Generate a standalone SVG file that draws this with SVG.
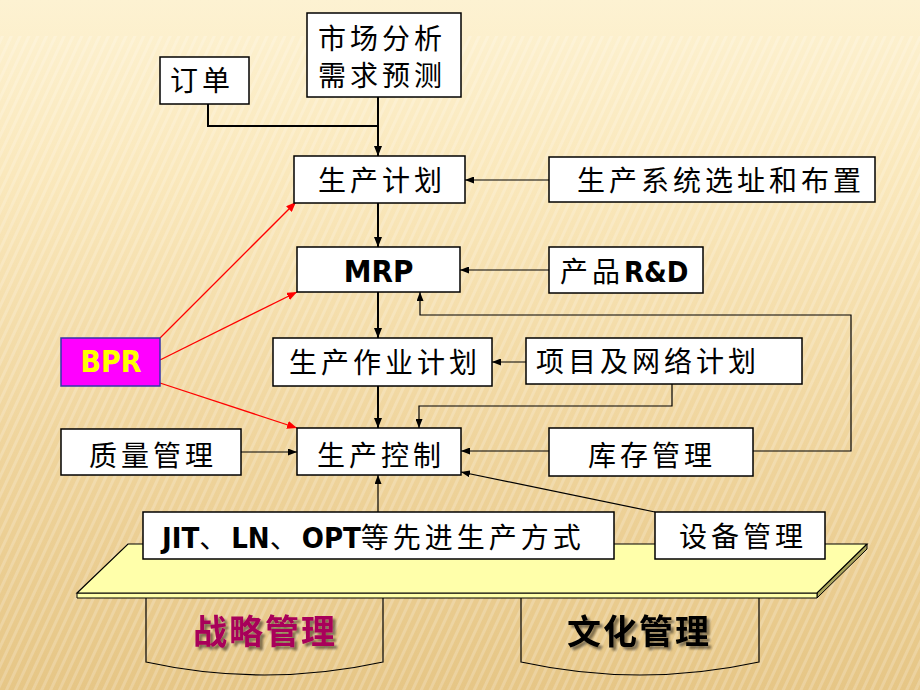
<svg xmlns="http://www.w3.org/2000/svg" width="920" height="690" viewBox="0 0 920 690">
<defs>
<linearGradient id="bg" x1="0" y1="0" x2="0" y2="1">
<stop offset="0" stop-color="#FDF2D2"/>
<stop offset="0.25" stop-color="#FAE8BC"/>
<stop offset="0.65" stop-color="#EFD49C"/>
<stop offset="1" stop-color="#E6C686"/>
</linearGradient>
<pattern id="stripes" width="8" height="8" patternUnits="userSpaceOnUse" patternTransform="rotate(25)">
<rect width="3" height="8" fill="#FFFFFF" opacity="0.4"/>
</pattern>
<marker id="ah" markerWidth="10" markerHeight="8" refX="10" refY="4" orient="auto" markerUnits="userSpaceOnUse">
<path d="M0,0 L10,4 L0,8 z" fill="#000"/>
</marker>
<marker id="ahs" markerWidth="9" markerHeight="7" refX="9" refY="3.5" orient="auto" markerUnits="userSpaceOnUse">
<path d="M0,0 L9,3.5 L0,7 z" fill="#000"/>
</marker>
<marker id="ahr" markerWidth="10" markerHeight="8" refX="10" refY="4" orient="auto" markerUnits="userSpaceOnUse">
<path d="M0,0 L10,4 L0,8 z" fill="#FF0000"/>
</marker>
<filter id="sh" x="-10%" y="-10%" width="130%" height="140%">
<feGaussianBlur in="SourceAlpha" stdDeviation="1"/>
<feOffset dx="3" dy="3" result="o"/>
<feFlood flood-color="#000" flood-opacity="0.45"/>
<feComposite in2="o" operator="in"/>
<feMerge><feMergeNode/><feMergeNode in="SourceGraphic"/></feMerge>
</filter>
</defs>
<style>
.box{fill:#FFFFFF;stroke:#000;stroke-width:1.5}
.cn{font-family:"Noto Sans CJK SC","Noto Sans CJK TC",sans-serif;font-size:28px;letter-spacing:4px;fill:#000}
.lb{font-family:"DejaVu Sans Condensed","DejaVu Sans",sans-serif;font-weight:bold;letter-spacing:0}
.thick{stroke:#000;stroke-width:2;fill:none}
.thin{stroke:#000;stroke-width:1.2;fill:none}
.red{stroke:#FF0000;stroke-width:1.3;fill:none}
.base{font-family:"Noto Sans CJK SC",sans-serif;font-size:34px;font-weight:bold;letter-spacing:2px}
</style>
<rect width="920" height="690" fill="url(#bg)"/>
<rect y="36" width="920" height="654" fill="url(#stripes)" opacity="0.5"/>

<g id="cylinders">
<path d="M146,597 V662 Q264.5,688 383,662 V597" fill="none" stroke="#000" stroke-width="1.2"/>
<path d="M521,597 V662 Q640,688 759,662 V597" fill="none" stroke="#000" stroke-width="1.2"/>
<text class="base" x="193" y="644" fill="#A8005A" filter="url(#sh)">战略管理</text>
<text class="base" x="567" y="644" fill="#000" filter="url(#sh)">文化管理</text>
</g>

<g id="platform">
<path d="M817,593 L867,544 L867,549 L817,598 z" fill="#A8A45C" stroke="#000" stroke-width="1"/>
<path d="M77,593 L817,593 L817,598 L77,598 z" fill="#FFFFAA" stroke="#000" stroke-width="1"/>
<path d="M128,544 L867,544 L817,593 L77,593 z" fill="#FFFFAA" stroke="#000" stroke-width="1.2"/>
</g>

<g id="connectors">
<polyline class="thick" points="208,104 208,126 378,126"/>
<line class="thick" x1="378" y1="97" x2="378" y2="156" marker-end="url(#ah)"/>
<line class="thick" x1="378" y1="203" x2="378" y2="247" marker-end="url(#ah)"/>
<line class="thick" x1="378" y1="292" x2="378" y2="338" marker-end="url(#ah)"/>
<line class="thick" x1="378" y1="386" x2="378" y2="428" marker-end="url(#ah)"/>
<line class="thin" x1="378" y1="512" x2="378" y2="475" marker-end="url(#ahs)"/>
<line class="thin" x1="549" y1="180" x2="465" y2="180" marker-end="url(#ahs)"/>
<line class="thin" x1="549" y1="270" x2="460" y2="270" marker-end="url(#ahs)"/>
<line class="thin" x1="526" y1="362" x2="492" y2="362" marker-end="url(#ahs)"/>
<polyline class="thin" points="672,384 672,406 419,406 419,428" marker-end="url(#ahs)"/>
<polyline class="thin" points="753,451 851,451 851,315 420,315 420,292" marker-end="url(#ahs)"/>
<line class="thin" x1="549" y1="451" x2="461" y2="451" marker-end="url(#ahs)"/>
<line class="thin" x1="241" y1="452" x2="297" y2="452" marker-end="url(#ahs)"/>
<line class="thin" x1="655" y1="512" x2="461" y2="472" marker-end="url(#ahs)"/>
<line class="red" x1="160" y1="338" x2="296" y2="202" marker-end="url(#ahr)"/>
<line class="red" x1="160" y1="360" x2="297" y2="292" marker-end="url(#ahr)"/>
<line class="red" x1="160" y1="383" x2="297" y2="428" marker-end="url(#ahr)"/>
</g>

<g id="dingdan"><rect class="box" x="160" y="57" width="89" height="47"/><text class="cn" x="170" y="91">订单</text></g>
<g id="shichang"><rect class="box" x="307" y="13" width="154" height="84"/><text class="cn" x="318" y="49">市场分析</text><text class="cn" x="318" y="86">需求预测</text></g>
<g id="shengchanjihua"><rect class="box" x="294" y="156" width="171" height="47"/><text class="cn" x="318" y="191">生产计划</text></g>
<g id="xuanzhi"><rect class="box" x="549" y="157" width="326" height="45"/><text class="cn" x="577" y="191" letter-spacing="3.5">生产系统选址和布置</text></g>
<g id="mrp"><rect class="box" x="297" y="247" width="163" height="45"/><text class="lb" x="378.5" y="282" font-size="31" text-anchor="middle">MRP</text></g>
<g id="rd"><rect class="box" x="549" y="247" width="154" height="46"/><text class="cn" x="560" y="282">产品<tspan class="lb" font-size="29" letter-spacing="0">R&amp;D</tspan></text></g>
<g id="bpr"><rect x="61" y="338" width="99" height="48" fill="#FF00FF" stroke="#3333AA" stroke-width="1.5"/><text class="lb" x="111" y="372" font-size="30" fill="#FFFF00" text-anchor="middle">BPR</text></g>
<g id="zuoye"><rect class="box" x="273" y="338" width="219" height="48"/><text class="cn" x="289" y="373">生产作业计划</text></g>
<g id="xiangmu"><rect class="box" x="526" y="338" width="276" height="46"/><text class="cn" x="536" y="372">项目及网络计划</text></g>
<g id="zhiliang"><rect class="box" x="61" y="429" width="180" height="46"/><text class="cn" x="89" y="466">质量管理</text></g>
<g id="kongzhi"><rect class="box" x="297" y="428" width="164" height="47"/><text class="cn" x="317" y="466">生产控制</text></g>
<g id="kucun"><rect class="box" x="549" y="428" width="204" height="48"/><text class="cn" x="588" y="466">库存管理</text></g>
<g id="jit"><rect class="box" x="143" y="512" width="471" height="47"/><text class="cn" x="162" y="548" letter-spacing="2.5"><tspan class="lb" font-size="29" letter-spacing="1">JIT</tspan>、<tspan class="lb" font-size="29" letter-spacing="1">LN</tspan>、<tspan class="lb" font-size="29" letter-spacing="1">OPT</tspan>等先进生产方式</text></g>
<g id="shebei"><rect class="box" x="655" y="512" width="170" height="47"/><text class="cn" x="679" y="547">设备管理</text></g>
</svg>
